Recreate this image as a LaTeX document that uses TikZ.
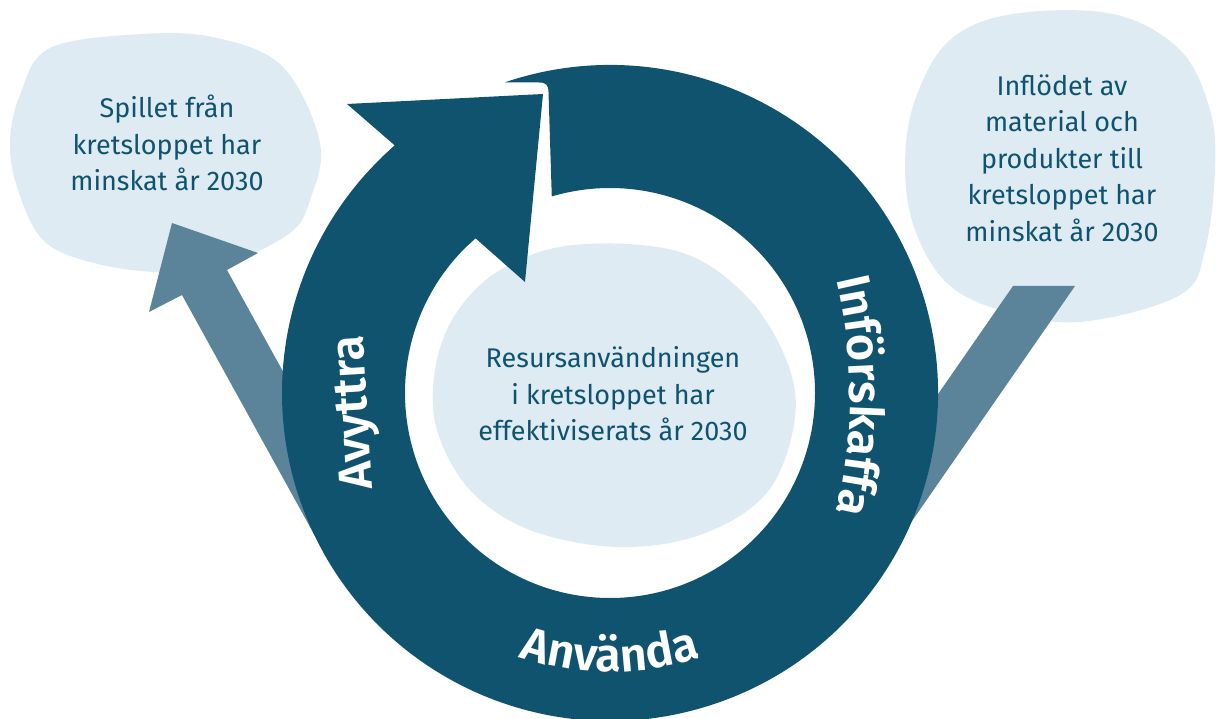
\documentclass[tikz,border=0pt]{standalone}
\usepackage{fontspec}
\setmainfont{Fira Sans}
\IfFontExistsTF{Fira Sans SemiBold}
  {\newfontfamily\ringff{Fira Sans SemiBold}}
  {\newfontfamily\ringff{Fira Sans}[UprightFont=*, FakeBold=1.5]}
\usetikzlibrary{decorations.text}
\definecolor{ringc}{HTML}{10536F}
\definecolor{midc}{HTML}{5B8399}
\definecolor{lightc}{HTML}{DEEBF3}
\newcommand\ringfont{\fontsize{47}{47}\selectfont\ringff\color{white}}
\begin{document}
\begin{tikzpicture}[x=1pt,y=1pt,
  blob/.style={fill=lightc, draw=none},
  flow/.style={fill=midc, draw=none},
  cyc/.style={fill=ringc, draw=none},
  blobtext/.style={text=ringc, align=center, font=\fontsize{27}{36.5}\selectfont},
  ringlabel/.style={text=white, font=\ringfont}]
\useasboundingbox (0,0) rectangle (1216,718);
\coordinate (C) at (610,325);
\coordinate (ic) at (353,322);
% light blobs
\fill[blob] plot[smooth cycle, tension=0.6] coordinates {(50,670) (143,684) (217,680) (283,651) (320,575) (310,518) (290,485) (230,456) (160,446) (90,456) (43,478) (18,528) (10,575) (20,623)};
\fill[blob] plot[smooth cycle, tension=0.6] coordinates {(1013,704) (1113,704) (1180,668) (1210,608) (1215,548) (1205,468) (1180,423) (1080,396) (1000,408) (947,435) (915,488) (905,551) (915,618) (950,678)};
\fill[blob] plot[smooth cycle, tension=0.6] coordinates {(573,473) (680,466) (750,418) (790,348) (793,288) (765,223) (700,183) (617,171) (530,188) (470,228) (437,288) (435,348) (455,403) (500,448)};
% flows
\fill[flow] (172,495) -- (258,465) -- (227,448) -- (360,207) -- (315,182) -- (182,423) -- (149,406) -- cycle;
\fill[flow] (1013,432) -- (1075,432) -- (885,158) -- (823,158) -- cycle;
% cycle ring
\fill[cyc] ([shift={(108.7:328)}]C) arc[start angle=108.7, end angle=-229, radius=328]
  -- ([shift={(131:205)}]C) arc[start angle=-229, end angle=106.5, radius=205]
  -- (548.5,626) .. controls (548.5,633) and (546,635.5) .. (539,635.5) -- cycle;
% arrow head
\fill[cyc] ([shift={(131:328)}]C) -- (347,614) -- (543,624) -- (525,436) -- ([shift={(131:205)}]C) -- ([shift={(134:205)}]C) -- ([shift={(134:328)}]C) -- cycle;
% texts
\node[blobtext] (tl) at (167,575) {Spillet från\\kretsloppet har\\minskat år 2030};
\node[blobtext] (tr) at (1062,560) {Inflödet av\\material och\\produkter till\\kretsloppet har\\minskat år 2030};
\node[blobtext] (tc) at (613,324) {Resursanvändningen\\i kretsloppet har\\effektiviserats år 2030};
\node[ringlabel, rotate=93.5, anchor=base] (lav) at (367.5,306) {Avyttra};
\path[decorate, decoration={text along path, text={|\ringfont|Införskaffa}, text align=center, text color=white}] ([shift={(20:497)}]ic) arc[start angle=20, end angle=-20, radius=497];
\path[decorate, decoration={text along path, text={|\ringfont|Använda}, text align=center, text color=white}] ([shift={(-125:279)}]C) arc[start angle=-125, end angle=-55, radius=279];
\end{tikzpicture}
\end{document}
